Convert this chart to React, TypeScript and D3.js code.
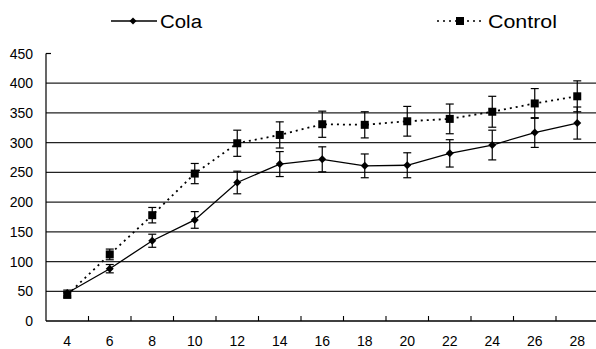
import React from "react";
import * as d3 from "d3";

const days = [4, 6, 8, 10, 12, 14, 16, 18, 20, 22, 24, 26, 28];
const colaMean = [47, 88, 135, 170, 233, 264, 272, 261, 262, 282, 296, 317, 333];
const colaErr = [5, 7, 11, 14, 19, 21, 21, 20, 21, 23, 25, 25, 27];
const controlMean = [44, 112, 178, 248, 299, 313, 331, 330, 336, 340, 352, 366, 378];
const controlErr = [5, 9, 13, 17, 22, 22, 22, 22, 25, 25, 26, 25, 26];
const yTicks = [0, 50, 100, 150, 200, 250, 300, 350, 400, 450];
const gridValues = [50, 100, 150, 200, 250, 300, 350, 400];

const W = 596;
const H = 349;
const font = "'Liberation Sans', Arial, sans-serif";

export default function App() {
  const x = d3
    .scaleBand<number>()
    .domain(days)
    .range([46, 46 + days.length * 42.5]);
  const y = d3.scaleLinear().domain([0, 450]).range([321, 53.5]);
  const cx = (d: number) => (x(d) as number) + x.bandwidth() / 2;

  const line = d3
    .line<number>()
    .x((_, i) => cx(days[i]))
    .y((v) => y(v));

  const diamond = (px: number, py: number, r = 4) =>
    `M${px},${py - r}L${px + r},${py}L${px},${py + r}L${px - r},${py}Z`;

  const errBars = (means: number[], errs: number[]) =>
    means.map((m, i) => {
      const px = cx(days[i]);
      const top = y(m + errs[i]);
      const bot = y(m - errs[i]);
      return (
        <g key={i} stroke="#000" strokeWidth={1.2}>
          <line x1={px} x2={px} y1={top} y2={bot} />
          <line x1={px - 4} x2={px + 4} y1={top} y2={top} />
          <line x1={px - 4} x2={px + 4} y1={bot} y2={bot} />
        </g>
      );
    });

  return (
    <svg
      width={W}
      height={H}
      style={{ position: "absolute", left: 0, top: 0, background: "#fff" }}
    >
      {/* legend */}
      <line x1={111} x2={157} y1={21} y2={21} stroke="#000" strokeWidth={1.3} />
      <path d={diamond(133, 21, 3.5)} fill="#000" />
      <text x={160} y={28} fontFamily={font} fontSize={18} textLength={42} lengthAdjust="spacingAndGlyphs">
        Cola
      </text>
      <line x1={437} x2={482} y1={21} y2={21} stroke="#000" strokeWidth={1.6} strokeDasharray="2,4" />
      <rect x={456} y={17} width={8} height={8} fill="#000" />
      <text x={488} y={28} fontFamily={font} fontSize={18} textLength={69} lengthAdjust="spacingAndGlyphs">
        Control
      </text>

      {/* grid */}
      {gridValues.map((v) => (
        <line key={v} x1={46} x2={W} y1={y(v)} y2={y(v)} stroke="#222" strokeWidth={1.3} />
      ))}

      {/* axes */}
      <line x1={46} x2={46} y1={y(450)} y2={y(0)} stroke="#000" strokeWidth={1.2} />
      <line x1={46} x2={51} y1={y(450)} y2={y(450)} stroke="#000" strokeWidth={1.2} />
      <line x1={46} x2={W} y1={y(0)} y2={y(0)} stroke="#000" strokeWidth={1.3} />
      {days.slice(1).map((d) => (
        <line key={d} x1={x(d)} x2={x(d)} y1={y(0)} y2={y(0) - 5} stroke="#000" strokeWidth={1.1} />
      ))}
      {yTicks.map((t) => (
        <text key={t} x={33} y={y(t) + 5} textAnchor="end" fontFamily={font} fontSize={14}>
          {t}
        </text>
      ))}
      {days.map((d) => (
        <text key={d} x={cx(d)} y={346} textAnchor="middle" fontFamily={font} fontSize={14}>
          {d}
        </text>
      ))}

      {/* control series */}
      <path d={line(controlMean) || ""} fill="none" stroke="#000" strokeWidth={1.8} strokeDasharray="2,4" />
      {errBars(controlMean, controlErr)}
      {controlMean.map((m, i) => (
        <rect key={i} x={cx(days[i]) - 4} y={y(m) - 4} width={8} height={8} fill="#000" />
      ))}

      {/* cola series */}
      <path d={line(colaMean) || ""} fill="none" stroke="#000" strokeWidth={1.3} />
      {errBars(colaMean, colaErr)}
      {colaMean.map((m, i) => (
        <path key={i} d={diamond(cx(days[i]), y(m))} fill="#000" />
      ))}
    </svg>
  );
}
